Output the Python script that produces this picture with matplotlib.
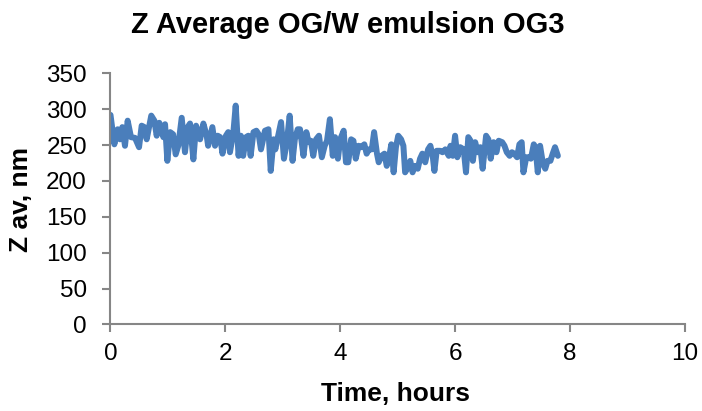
import matplotlib
matplotlib.use("Agg")
import matplotlib.pyplot as plt

plt.rcParams['font.family'] = ['Liberation Sans', 'DejaVu Sans']

TITLE = "Z Average OG/W emulsion OG3"
XLABEL = "Time, hours"
YLABEL = "Z av, nm"
LINE_COLOR = "#4A7EBB"
AXIS_COLOR = "#868686"

XTICKS = [0, 2, 4, 6, 8, 10]
YTICKS = [0, 50, 100, 150, 200, 250, 300, 350]

# time [h] and z-average [nm]
hours = [0.00, 0.067, 0.125, 0.165, 0.206, 0.252, 0.299, 0.357, 0.427, 0.497,
         0.543, 0.59, 0.63, 0.71, 0.764, 0.804, 0.85, 0.92, 0.95, 0.99,
         1.04, 1.09, 1.135, 1.18, 1.24, 1.297, 1.344, 1.385, 1.443, 1.49,
         1.56, 1.617, 1.675, 1.70, 1.774, 1.82, 1.867,
         1.91, 1.95, 2.01, 2.05, 2.08, 2.14, 2.18, 2.23, 2.27, 2.31,
         2.36, 2.40, 2.44, 2.49, 2.54, 2.58, 2.62, 2.69, 2.75, 2.79,
         2.84, 2.87, 2.92, 2.97, 3.02, 3.07, 3.12, 3.17, 3.21, 3.26,
         3.30, 3.36, 3.41, 3.45, 3.49, 3.53, 3.58, 3.63, 3.68, 3.73,
         3.77, 3.82, 3.87,
         3.91, 3.96, 4.00, 4.06, 4.10, 4.14, 4.19, 4.23, 4.27, 4.32,
         4.36, 4.42, 4.46, 4.50, 4.55, 4.59, 4.64, 4.67, 4.72, 4.77,
         4.81, 4.85, 4.89, 4.93, 4.97, 5.01, 5.06, 5.10, 5.13, 5.18,
         5.22, 5.26, 5.30, 5.35, 5.39, 5.43, 5.48, 5.53, 5.57, 5.61,
         5.64, 5.68, 5.74, 5.78, 5.83, 5.89,
         5.92, 5.96, 6.00, 6.04, 6.09, 6.15, 6.19, 6.23, 6.27, 6.31,
         6.35, 6.39, 6.44, 6.48, 6.54, 6.58, 6.62, 6.67, 6.72, 6.76,
         6.82, 6.86, 6.90, 6.95, 6.99, 7.03, 7.08, 7.12, 7.16, 7.19,
         7.24, 7.28, 7.32, 7.37, 7.40, 7.44, 7.48, 7.53, 7.57, 7.61,
         7.66, 7.70, 7.74, 7.79]

z_av = [292, 251, 272, 258, 275, 249, 284, 261, 260, 247,
        277, 275, 258, 291, 284, 263, 281, 261, 279, 228,
        268, 265, 237, 249, 288, 240, 275, 280, 230, 277,
        258, 280, 263, 249, 275, 249, 263,
        261, 238, 263, 268, 240, 268, 305, 235, 263, 235,
        261, 263, 235, 268, 270, 265, 244, 270, 272, 214,
        258, 244, 263, 282, 231, 254, 291, 228, 258, 272,
        272, 235, 268, 254, 256, 235, 258, 263, 233, 249,
        256, 286, 235,
        261, 231, 258, 270, 226, 226, 258, 256, 231, 249,
        247, 251, 238, 244, 244, 268, 238, 226, 235, 238,
        221, 233, 251, 212, 247, 263, 258, 249, 212, 219,
        228, 212, 221, 217, 231, 238, 226, 244, 249, 235,
        214, 242, 242, 240, 244, 235,
        249, 235, 263, 233, 247, 244, 212, 261, 256, 228,
        254, 240, 247, 217, 263, 258, 231, 254, 240, 256,
        254, 249, 240, 235, 240, 238, 233, 251, 254, 212,
        233, 233, 231, 251, 247, 212, 249, 224, 217, 228,
        228, 238, 247, 235]

fig = plt.figure(figsize=(7.02, 4.11), dpi=100)
ax = fig.add_axes([0.1574, 0.2105, 0.8181, 0.6112])

ax.plot(hours, z_av, color=LINE_COLOR, linewidth=4.3,
        solid_joinstyle="round", solid_capstyle="round")

ax.set_xlim(0, 10)
ax.set_ylim(0, 350)
ax.set_xticks(XTICKS)
ax.set_yticks(YTICKS)

for side in ["top", "right"]:
    ax.spines[side].set_visible(False)
for side in ["left", "bottom"]:
    ax.spines[side].set_color(AXIS_COLOR)
    ax.spines[side].set_linewidth(1.5)

ax.tick_params(axis="both", direction="out", length=6, width=1.5,
               color=AXIS_COLOR, labelsize=17.5, labelcolor="black")
ax.tick_params(axis="y", pad=11)
ax.tick_params(axis="x", pad=7)

# excel centres the title on the whole chart, not on the plot area
fig.text(0.496, 0.939, TITLE, fontsize=21, fontweight="bold",
         ha="center", va="center")
ax.set_xlabel(XLABEL, fontsize=19, fontweight="bold", va="center")
ax.xaxis.set_label_coords(0.497, -0.275)
ax.set_ylabel(YLABEL, fontsize=19, fontweight="bold", va="center")
ax.yaxis.set_label_coords(-0.156, 0.496)

fig.savefig("out.png", dpi=100)
